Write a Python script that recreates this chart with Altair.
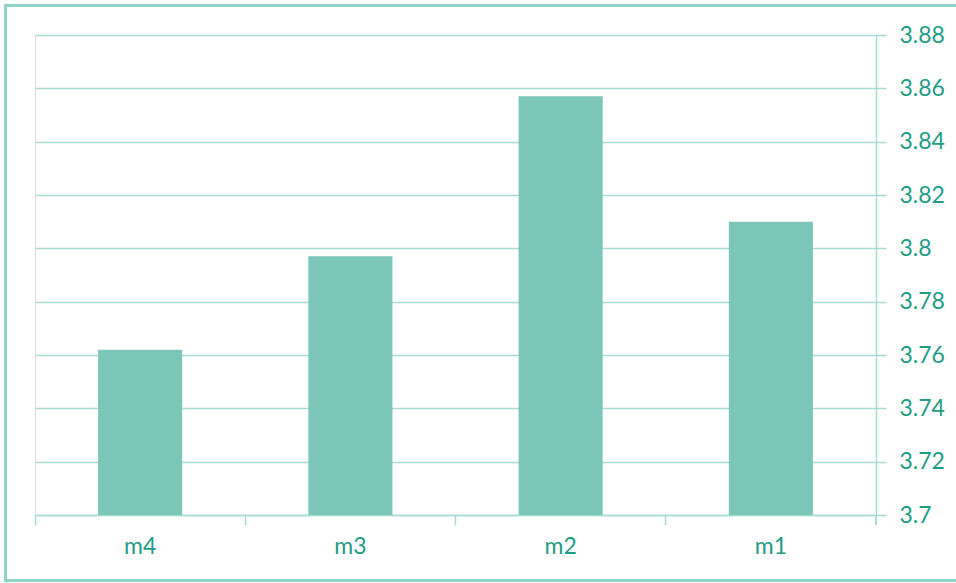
import altair as alt
import pandas as pd

# Mean score per model
models = ["m4", "m3", "m2", "m1"]
scores = [3.762, 3.797, 3.857, 3.810]
y_ticks = [3.70, 3.72, 3.74, 3.76, 3.78, 3.80, 3.82, 3.84, 3.86, 3.88]

BAR = "#7CC6B9"
LINE = "#A6DBD1"
TEXT = "#1F9C86"
FRAME = "#8ED4C6"
FONT = "Lato"

W, H = 841, 480

df = pd.DataFrame({"model": models, "score": scores})

base = alt.Chart(df)

bars = base.mark_bar(color=BAR, width=alt.RelativeBandSize(0.4)).encode(
    x=alt.X(
        "model:N",
        sort=models,
        scale=alt.Scale(paddingInner=0, paddingOuter=0),
        axis=alt.Axis(
            title=None,
            labelAngle=0,
            bandPosition=0,
            tickSize=10,
            tickColor=LINE,
            tickWidth=1.5,
            domainColor=LINE,
            domainWidth=1.5,
            labelColor=TEXT,
            labelFont=FONT,
            labelFontSize=23,
            labelPadding=10,
            grid=False,
        ),
    ),
    y=alt.Y(
        "score:Q",
        scale=alt.Scale(domain=[3.7, 3.88], zero=False, nice=False),
        axis=alt.Axis(
            title=None,
            orient="right",
            values=y_ticks,
            format="~g",
            tickSize=10,
            tickColor=LINE,
            tickWidth=1.5,
            domainColor=LINE,
            domainWidth=1.5,
            gridColor=LINE,
            gridWidth=1.5,
            labelColor=TEXT,
            labelFont=FONT,
            labelFontSize=23,
            labelPadding=13,
            labelAlign="left",
        ),
    ),
    y2=alt.datum(3.7),
)

# closing tick at the right end of the category axis
end_tick = base.mark_rule(color=LINE, strokeWidth=1.5).encode(
    x=alt.value(W), y=alt.value(H), y2=alt.value(H + 10)
)

# outer frame around the whole figure
frame = base.mark_rect(fill=None, stroke=FRAME, strokeWidth=2.5).encode(
    x=alt.value(-29.5), x2=alt.value(W + 90),
    y=alt.value(-29.5), y2=alt.value(H + 65.5),
)

chart = (
    alt.layer(bars, end_tick, frame)
    .properties(
        width=W,
        height=H,
        autosize=alt.AutoSizeParams(type="none"),
        padding={"left": 35, "top": 35, "right": 80, "bottom": 68},
    )
    .configure_view(stroke=None)
    .configure(background="white")
)

chart.save("out.html", embed_options={"renderer": "svg", "actions": False})
